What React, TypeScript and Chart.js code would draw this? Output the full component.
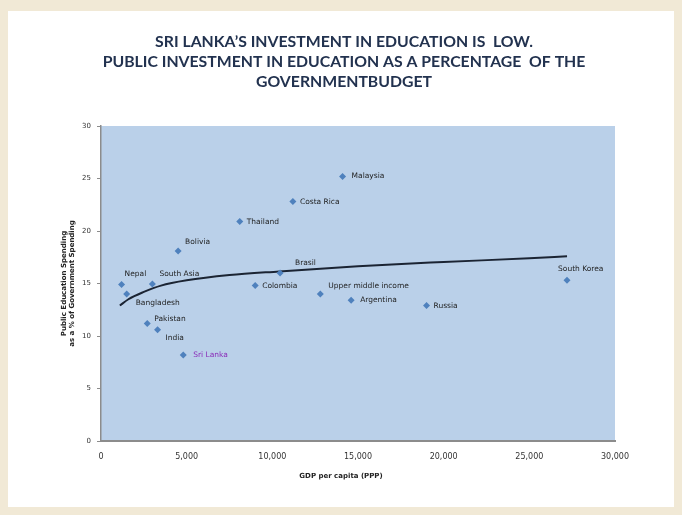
import React, { useEffect, useRef } from "react";
import { Chart, registerables } from "chart.js";

Chart.register(...registerables);

const titleLines = [
  "SRI LANKA\u2019S INVESTMENT IN EDUCATION IS  LOW.",
  "PUBLIC INVESTMENT IN EDUCATION AS A PERCENTAGE  OF THE",
  "GOVERNMENTBUDGET",
];
const yAxisTitle = ["Public Education Spending", "as a % of Government Spending"];
const xAxisTitle = "GDP per capita (PPP)";

const countries = [
  "Nepal", "Bangladesh", "South Asia", "Pakistan", "India", "Sri Lanka", "Bolivia",
  "Thailand", "Colombia", "Brasil", "Costa Rica", "Upper middle income", "Malaysia",
  "Argentina", "Russia", "South Korea",
];
const gdpPerCapita = [1200, 1500, 3000, 2700, 3300, 4800, 4500, 8100, 9000, 10450, 11200, 12800, 14100, 14600, 19000, 27200];
const eduSpending = [14.9, 14.0, 14.95, 11.2, 10.6, 8.2, 18.1, 20.9, 14.8, 16.0, 22.8, 14.0, 25.2, 13.4, 12.9, 15.3];

const trendX = [1100, 1600, 2500, 3500, 5000, 7500, 10400, 15000, 20000, 25000, 27200];
const trendY = [12.9, 13.5, 14.2, 14.8, 15.3, 15.8, 16.15, 16.65, 17.05, 17.4, 17.6];

const yTicks = [0, 5, 10, 15, 20, 25, 30];
const xTicks = [0, 5000, 10000, 15000, 20000, 25000, 30000];

// label placement (layout only): [dx, dy] from marker
const labelOffsets: Record<string, [number, number]> = {
  Nepal: [3, -11],
  Bangladesh: [9, 9],
  "South Asia": [7, -10],
  Pakistan: [7, -4],
  India: [8, 8],
  "Sri Lanka": [10, 0],
  Bolivia: [7, -9],
  Thailand: [7, 0],
  Colombia: [7, 0],
  Brasil: [15, -10],
  "Costa Rica": [7, 0],
  "Upper middle income": [8, -8],
  Malaysia: [9, 0],
  Argentina: [9, 0],
  Russia: [7, 0],
  "South Korea": [-9, -11],
};

const bgPlugin = {
  id: "bgPlugin",
  beforeDraw(chart: any) {
    const { ctx, chartArea } = chart;
    ctx.save();
    ctx.fillStyle = "#F1E9D6";
    ctx.fillRect(0, 0, chart.width, chart.height);
    ctx.fillStyle = "#FFFFFF";
    ctx.fillRect(8, 11, 666, 496);
    ctx.fillStyle = "#BAD0E9";
    ctx.fillRect(chartArea.left, chartArea.top, chartArea.right - chartArea.left, chartArea.bottom - chartArea.top);
    // titles
    ctx.fillStyle = "#22324F";
    ctx.font = "bold 15.8px Lato";
    ctx.textAlign = "center";
    ctx.textBaseline = "middle";
    const ys = [42, 62, 82];
    titleLines.forEach((t, i) => ctx.fillText(t, 344, ys[i]));
    // axis titles
    ctx.fillStyle = "#222";
    ctx.font = "bold 7px 'DejaVu Sans'";
    ctx.fillText(xAxisTitle, 341, 476);
    ctx.save();
    ctx.translate(64, (chartArea.top + chartArea.bottom) / 2);
    ctx.rotate(-Math.PI / 2);
    ctx.fillText(yAxisTitle[0], 0, 0);
    ctx.fillText(yAxisTitle[1], 0, 8);
    ctx.restore();
    ctx.restore();
  },
  afterDatasetsDraw(chart: any) {
    const { ctx } = chart;
    const meta = chart.getDatasetMeta(0);
    ctx.save();
    ctx.font = "7.5px 'DejaVu Sans'";
    ctx.textBaseline = "middle";
    ctx.textAlign = "left";
    meta.data.forEach((pt: any, i: number) => {
      const name = countries[i];
      const off = labelOffsets[name] || [7, 0];
      ctx.fillStyle = name === "Sri Lanka" ? "#8A2BB8" : "#1E1E1E";
      ctx.fillText(name, pt.x + off[0], pt.y + off[1]);
    });
    ctx.restore();
  },
};

export default function App() {
  const ref = useRef<HTMLCanvasElement>(null);
  useEffect(() => {
    if (!ref.current) return;
    const chart = new Chart(ref.current, {
      type: "scatter",
      data: {
        datasets: [
          {
            label: "Countries",
            data: gdpPerCapita.map((x, i) => ({ x, y: eduSpending[i] })),
            pointStyle: "rectRot",
            pointRadius: 3.5,
            backgroundColor: "#4F81BD",
            borderColor: "#4F81BD",
            borderWidth: 0,
          },
          {
            label: "Trend",
            data: trendX.map((x, i) => ({ x, y: trendY[i] })),
            showLine: true,
            pointRadius: 0,
            borderColor: "#1B2433",
            borderWidth: 2,
            cubicInterpolationMode: "monotone",
          } as any,
        ],
      },
      options: {
        responsive: false,
        animation: false,
        devicePixelRatio: 1,
        layout: { padding: { left: 71, top: 126, right: 67, bottom: 34 } },
        plugins: { legend: { display: false }, tooltip: { enabled: false }, title: { display: false } },
        scales: {
          x: {
            type: "linear",
            min: 0,
            max: 30000,
            afterFit: (s: any) => { s.height = 40; },
            afterBuildTicks: (s: any) => { s.ticks = xTicks.map((v) => ({ value: v })); },
            ticks: {
              color: "#333",
              font: { family: "DejaVu Sans", size: 8 },
              padding: 8,
              maxRotation: 0,
              callback: (v: any) => Number(v).toLocaleString("en-US"),
            },
            grid: { display: false, drawTicks: true, tickLength: 3, color: "#8C8C8C" },
            border: { display: true, color: "#8C8C8C", width: 2 },
          },
          y: {
            type: "linear",
            min: 0,
            max: 30,
            afterFit: (s: any) => { s.width = 30; },
            afterBuildTicks: (s: any) => { s.ticks = yTicks.map((v) => ({ value: v })); },
            ticks: {
              color: "#333",
              font: { family: "DejaVu Sans", size: 7 },
              padding: 6,
            },
            grid: { display: true, drawOnChartArea: false, drawTicks: true, tickLength: 4, color: "#8C8C8C" },
            border: { display: true, color: "#8C8C8C", width: 1.5 },
          },
        },
      },
      plugins: [bgPlugin],
    });
    return () => chart.destroy();
  }, []);
  return (
    <div style={{ position: "fixed", left: 0, top: 0, width: 682, height: 515 }}>
      <canvas ref={ref} width={682} height={515} style={{ display: "block", width: 682, height: 515 }} />
    </div>
  );
}
